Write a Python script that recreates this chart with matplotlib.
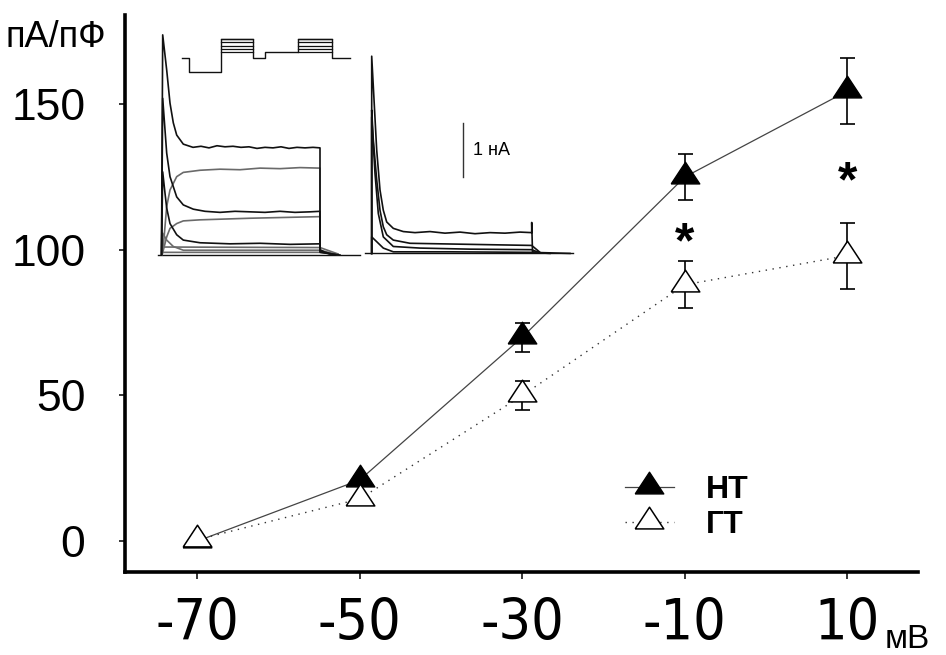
import matplotlib
matplotlib.use('Agg')
import matplotlib.pyplot as plt
from matplotlib import font_manager as fm

plt.rcParams['font.family'] = ['Liberation Sans', 'DejaVu Sans']

# pick a narrow face for the x tick labels, if one is installed
files = [f.fname for f in fm.fontManager.ttflist]
narrow_file, xfs = None, 38
for key, size in [('LiberationSansNarrow-Regular', 49), ('DejaVuSansCondensed.', 41)]:
    hits = [f for f in files if key in f]
    if hits:
        narrow_file, xfs = hits[0], size
        break
xprop = fm.FontProperties(fname=narrow_file) if narrow_file else fm.FontProperties(family='Liberation Sans')

# ---- I-V curve, pA/pF vs mV
volt = [-70, -50, -30, -10, 10]
nt_mean = [0, 21, 70, 125, 154.5]
nt_err = [0, 1.5, 5, 8, 11.3]
gt_mean = [0.5, 14.5, 50, 88, 98]
gt_err = [0, 1, 5, 8, 11.3]
star_x = [-10, 10]
star_y = [97.5, 118.5]
xticks = [-70, -50, -30, -10, 10]
xlabels = ['-70', '-50', '-30', '-10', '10']
yticks = [0, 50, 100, 150]

# ---- inset: current traces (t in ms, I in nA)
t_a = [11.5, 12.7, 16.7, 20, 23.3, 26.7, 33.3, 43, 51, 59, 67, 75, 83, 91, 99, 107,
       115, 123, 131, 139, 147, 155, 163, 170, 170, 175, 182, 190]
i_a = [0, 4.13, 3.47, 2.85, 2.48, 2.25, 2.08, 2.02, 2.04, 2.01, 2.05, 2.03, 2.04, 2.02,
       2.03, 2.00, 2.02, 2.01, 2.03, 2.00, 2.02, 2.01, 2.02, 2.01, 0.10, 0.05, 0.02, 0]
t_b = [12, 13.3, 16.7, 20, 26.7, 33.3, 50, 70, 90, 110, 130, 150, 170, 170, 180]
i_b = [0, 0.16, 0.91, 1.22, 1.47, 1.55, 1.59, 1.61, 1.60, 1.63, 1.62, 1.64, 1.63, 0.08, 0.02]
t_c = [11.5, 12.7, 16.7, 20, 26.7, 33.3, 43.3, 55, 70, 85, 100, 115, 130, 145, 160, 170, 170, 180]
i_c = [0, 2.94, 1.91, 1.47, 1.09, 0.94, 0.86, 0.82, 0.80, 0.82, 0.81, 0.80, 0.82, 0.80,
       0.81, 0.82, 0.08, 0.02]
t_d = [12, 13.3, 16.7, 20, 26.7, 33.3, 50, 100, 170, 170, 182]
i_d = [0, 0.09, 0.34, 0.50, 0.59, 0.64, 0.66, 0.69, 0.72, 0.06, 0.02]
t_e = [11.5, 12.7, 15, 16.7, 20, 26.7, 33.3, 50, 80, 110, 140, 170, 170, 185]
i_e = [0, 1.56, 1.16, 0.88, 0.59, 0.38, 0.28, 0.23, 0.21, 0.22, 0.20, 0.21, 0.05, 0.01]
t_f = [12, 12.7, 16.7, 23.3, 33.3, 170, 185]
i_f = [0, 0.41, 0.28, 0.16, 0.09, 0.09, 0.02]
t_g = [12, 170, 188]
i_g1 = [0.15, 0.14, 0.02]
i_g2 = [0.05, 0.05, 0.01]

t_ra = [221.7, 221.7, 226.7, 230, 233.3, 236.7, 243.3, 253.3, 265, 280, 295, 310, 325,
        340, 355, 370, 381.7, 381.7, 382.5, 390, 400]
i_ra = [0.03, 3.73, 1.97, 1.22, 0.84, 0.62, 0.50, 0.44, 0.42, 0.44, 0.41, 0.43, 0.40,
        0.42, 0.41, 0.43, 0.42, 0.61, 0.06, 0.04, 0.03]
t_rb = [221.7, 221.7, 223.3, 226.7, 230, 233.3, 236.7, 243.3, 260, 290, 320, 350, 381.7, 390]
i_rb = [0.03, 2.72, 2.16, 1.41, 0.84, 0.53, 0.38, 0.28, 0.22, 0.21, 0.20, 0.19, 0.18, 0.05]
t_rc = [221.7, 221.7, 225, 228.3, 233.3, 243.3, 270, 320, 381.7, 390]
i_rc = [0.03, 2.59, 1.53, 0.78, 0.34, 0.16, 0.13, 0.11, 0.10, 0.04]
t_rd = [221.7, 221.7, 226.7, 233.3, 243.3, 300, 381.7, 420]
i_rd = [0.03, 0.34, 0.25, 0.13, 0.06, 0.06, 0.05, 0.03]

base_left_t, base_left_i = [8, 210], [0, 0]
base_right_t, base_right_i = [215, 423], [0.03, 0.03]

# stimulation protocol (drawn on the same inset scale)
prot_t = [31.7, 39.3, 70.7, 103.3, 115, 148.3, 181.7, 200]
prot_v = [3.70, 3.44, 4.05, 3.70, 3.80, 4.05, 3.70, 3.70]
step_lvls = [4.05, 3.99, 3.92, 3.86, 3.80]
step_on = [70.7, 148.3]
step_off = [103.3, 181.7]
scale_t, scale_i = [313.3, 313.3], [1.47, 2.47]

fig = plt.figure(figsize=(9.46, 6.55), dpi=100)
ax = fig.add_axes([125/946, 83/655, 793/946, 557/655])

tri = [(-1, -0.45), (1, -0.45), (0, 1.07), (-1, -0.45)]

ax.errorbar(volt, nt_mean, yerr=nt_err, fmt='none', ecolor='black',
            elinewidth=1.2, capsize=5.4, capthick=1.2, zorder=2)
ax.errorbar(volt, gt_mean, yerr=gt_err, fmt='none', ecolor='black',
            elinewidth=1.2, capsize=5.4, capthick=1.2, zorder=2)
l_nt, = ax.plot(volt, nt_mean, color='#444444', lw=0.9, marker=tri, ms=22,
                mfc='black', mec='black', zorder=3)
l_gt, = ax.plot(volt, gt_mean, color='#333333', lw=1.0, ls=(0, (1, 4)), marker=tri,
                ms=22, mfc='white', mec='black', mew=1.1, zorder=4)

for sx, sy in zip(star_x, star_y):
    ax.text(sx, sy, '*', fontsize=36, fontweight='bold', ha='center', va='baseline')

ax.set_xlim(-78.9, 18.7)
ax.set_ylim(-10.6, 180.6)
ax.set_xticks(xticks)
ax.set_xticklabels(xlabels, fontproperties=xprop, fontsize=xfs)
ax.set_yticks(yticks)
ax.set_yticklabels([str(v) for v in yticks], fontsize=32)
ax.tick_params(axis='y', direction='out', length=4.5, width=1.1, pad=24)
ax.tick_params(axis='x', direction='out', length=5, width=1.1, pad=13)
for s in ['top', 'right']:
    ax.spines[s].set_visible(False)
for s in ['left', 'bottom']:
    ax.spines[s].set_linewidth(2.6)

ax.legend([l_nt, l_gt], ['НТ', 'ГТ'], loc='upper left', frameon=False,
          bbox_to_anchor=(625/946, (655-475)/655), bbox_transform=fig.transFigure,
          prop={'weight': 'bold', 'size': 23}, handlelength=1.53, handletextpad=1.0,
          labelspacing=0.15, borderpad=0, borderaxespad=0, numpoints=1)

fig.text(885/946, 7/655, 'мВ', fontsize=24, va='baseline')
fig.text(5/946, (655-47)/655, 'пА/пФ', fontsize=26, va='baseline')

# inset with raw currents
ins = fig.add_axes([150/946, 393/655, 430/946, 237/655])
ins.set_xlim(0, 430)
ins.set_ylim(-0.131, 4.315)
ins.axis('off')
blk, gry = '#111111', '#6a6a6a'
ins.plot(base_left_t, base_left_i, color=blk, lw=1.0)
ins.plot(base_right_t, base_right_i, color=blk, lw=1.0)
for tt, ii in [(t_b, i_b), (t_d, i_d), (t_f, i_f), (t_g, i_g1), (t_g, i_g2)]:
    ins.plot(tt, ii, color=gry, lw=1.2)
for tt, ii in [(t_a, i_a), (t_c, i_c), (t_e, i_e),
               (t_ra, i_ra), (t_rb, i_rb), (t_rc, i_rc), (t_rd, i_rd)]:
    ins.plot(tt, ii, color=blk, lw=1.2)
ins.plot(prot_t, prot_v, color=blk, lw=1.0, drawstyle='steps-post')
for a, b in zip(step_on, step_off):
    for lv in step_lvls:
        ins.plot([a, b], [lv, lv], color=blk, lw=0.9)
ins.plot(scale_t, scale_i, color='#333333', lw=1.0)
ins.text(323, 1.97, '1 нА', fontsize=13, va='center')

fig.savefig('out.png', dpi=100)
